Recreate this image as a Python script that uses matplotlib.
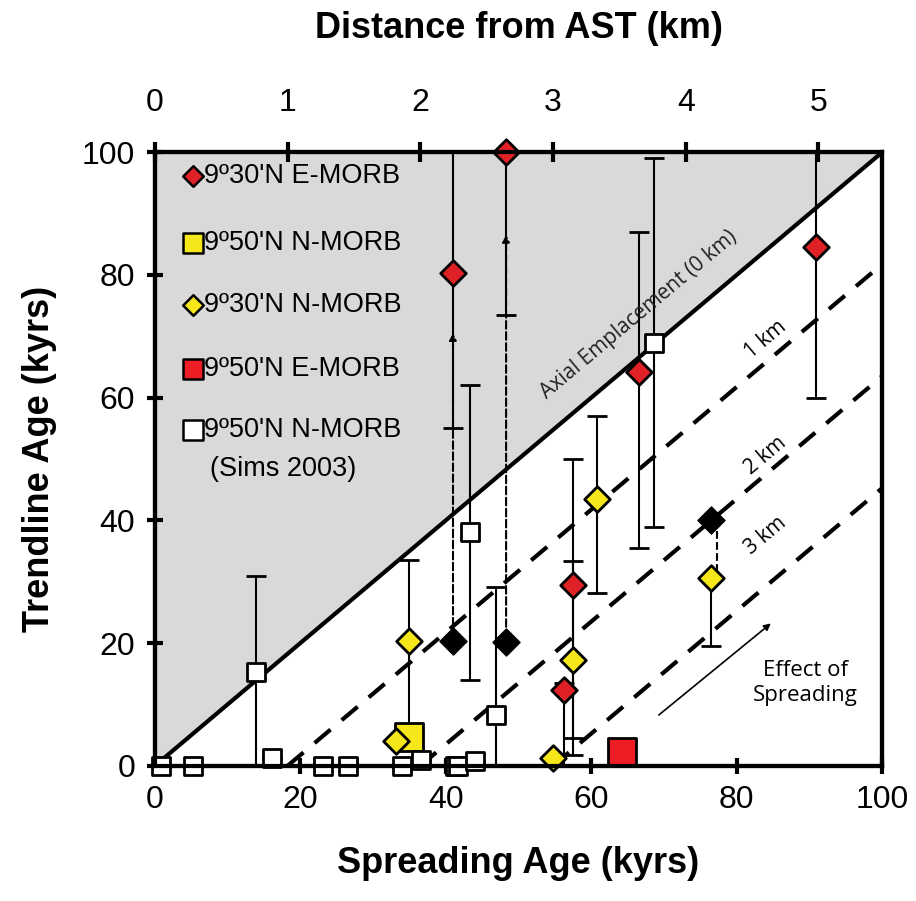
import matplotlib.pyplot as plt
import numpy as np

plt.rcParams['font.family'] = ['Liberation Sans', 'DejaVu Sans']

# 9º30'N E-MORB (red diamonds): x, y, lower, upper
red_d_x = [41.0, 48.3, 56.3, 57.5, 66.6, 90.9]
red_d_y = [80.3, 100.0, 12.3, 29.4, 64.2, 84.6]
red_d_lo = [55.0, 73.5, 0.0, 4.5, 35.5, 60.0]
red_d_hi = [100.0, 100.0, 13.5, 50.0, 87.0, 100.0]

# 9º30'N N-MORB (yellow diamonds)
yel_d_x = [33.1, 35.0, 54.7, 57.5, 60.8, 76.5]
yel_d_y = [4.0, 20.3, 1.2, 17.2, 43.5, 30.6]
yel_d_lo = [4.0, 5.0, 1.2, 1.8, 28.2, 19.5]
yel_d_hi = [4.0, 33.5, 1.2, 33.4, 57.0, 30.6]

# 9º50'N N-MORB (yellow square), 9º50'N E-MORB (red square)
yel_s_x, yel_s_y = [35.0], [4.7]
red_s_x, red_s_y = [64.2], [2.3]

# 9º50'N N-MORB (Sims 2003), white squares
wht_x = [0.8, 5.2, 13.9, 16.1, 23.1, 26.5, 34.0, 36.6, 41.3, 41.7, 43.3, 44.0, 46.9, 68.6]
wht_y = [0.0, 0.0, 15.3, 1.2, 0.0, 0.0, 0.0, 1.0, 0.0, 0.0, 38.1, 0.8, 8.3, 68.9]
wht_lo = [0.0, 0.0, 0.0, 1.2, 0.0, 0.0, 0.0, 1.0, 0.0, 0.0, 14.0, 0.8, 0.0, 39.0]
wht_hi = [0.0, 0.0, 31.0, 1.2, 0.0, 0.0, 0.0, 1.0, 0.0, 0.0, 62.0, 0.8, 29.2, 99.0]

# black diamonds (corrected ages) and arrow tips
blk_x = [41.0, 48.3, 76.5]
blk_y = [20.4, 20.2, 40.0]
arrow_top = [71.0, 87.0, 30.6]

km_ticks = [0, 1, 2, 3, 4, 5]
kyr_per_km = 18.25

fig = plt.figure(figsize=(9.16, 9.01), dpi=100)
ax = fig.add_axes([0.169, 0.150, 0.794, 0.681])
ax.set_xlim(0, 100)
ax.set_ylim(0, 100)

# shaded region above axial emplacement line
ax.fill_between([0, 100], [0, 100], [100, 100], color='#d9d9d9', zorder=0)
ax.plot([0, 100], [0, 100], color='black', lw=3, zorder=1)
for k in [1, 2, 3]:
    off = k * kyr_per_km
    ax.plot([off, 100], [0, 100 - off], color='black', lw=3, ls=(0, (5, 3.5)), zorder=1)

ax.text(66.5, 73.5, 'Axial Emplacement (0 km)', rotation=40, fontsize=15,
        family='Open Sans', ha='center', va='center', color='#222222')
ax.text(84, 69.5, '1 km', rotation=40, fontsize=15, family='Open Sans', ha='center', va='center')
ax.text(84, 50.5, '2 km', rotation=40, fontsize=15, family='Open Sans', ha='center', va='center')
ax.text(84, 37.5, '3 km', rotation=40, fontsize=15, family='Open Sans', ha='center', va='center')

ax.annotate('', xy=(85, 23.5), xytext=(69, 8),
            arrowprops=dict(arrowstyle='-|>', color='black', lw=1.2))
ax.text(89.5, 13.5, 'Effect of\nSpreading', fontsize=16, family='Open Sans',
        ha='center', va='center')

def ebars(x, y, lo, hi):
    y = np.array(y)
    yerr = [y - np.array(lo), np.array(hi) - y]
    ax.errorbar(x, y, yerr=yerr, fmt='none', ecolor='black', elinewidth=1.5,
                capsize=7, capthick=2, zorder=2)

ebars(red_d_x, red_d_y, red_d_lo, red_d_hi)
ebars(yel_d_x, yel_d_y, yel_d_lo, yel_d_hi)
ebars(wht_x, wht_y, wht_lo, wht_hi)

# dashed arrows from black diamonds
for x, y0, y1 in zip(blk_x, blk_y, arrow_top):
    if y1 > y0:
        ax.annotate('', xy=(x, y1), xytext=(x, y0 + 2),
                    arrowprops=dict(arrowstyle='-|>', ls='--', color='black', lw=1.5),
                    zorder=2)
    else:
        ax.plot([x + 0.8, x + 0.8], [y0, y1], ls='--', color='black', lw=1.5, zorder=2)

ax.scatter(wht_x, wht_y, marker='s', s=170, c='white', edgecolors='black', lw=2, zorder=4, clip_on=False)
ax.scatter(blk_x, blk_y, marker='D', s=190, c='black', edgecolors='black', lw=1, zorder=4)
ax.scatter(yel_s_x, yel_s_y, marker='s', s=420, c='#f5e71a', edgecolors='black', lw=2, zorder=3, clip_on=False)
ax.scatter(red_s_x, red_s_y, marker='s', s=420, c='#ee1c24', edgecolors='black', lw=2, zorder=4, clip_on=False)
ax.scatter(yel_d_x, yel_d_y, marker='D', s=170, c='#f5e71a', edgecolors='black', lw=2, zorder=5, clip_on=False)
ax.scatter(red_d_x, red_d_y, marker='D', s=170, c='#df2127', edgecolors='black', lw=2, zorder=5, clip_on=False)

# legend drawn by hand
leg_marker = ['D', 's', 'D', 's', 's']
leg_color = ['#df2127', '#f5e71a', '#f5e71a', '#ee1c24', 'white']
leg_label = ["9º30'N E-MORB", "9º50'N N-MORB", "9º30'N N-MORB", "9º50'N E-MORB", "9º50'N N-MORB"]
leg_y = [96.1, 85.2, 75.1, 64.7, 54.7]
for m, c, lab, yy in zip(leg_marker, leg_color, leg_label, leg_y):
    ax.scatter([5.2], [yy], marker=m, s=110 if m == 'D' else 200, c=c,
               edgecolors='black', lw=1.8, zorder=6)
    ax.text(6.8, yy, lab, fontsize=19.5, ha='left', va='center', zorder=6)
ax.text(7.6, 48.3, '(Sims 2003)', fontsize=19.5, ha='left', va='center', zorder=6)

for sp in ax.spines.values():
    sp.set_linewidth(3)
ax.set_xticks([0, 20, 40, 60, 80, 100])
ax.set_yticks([0, 20, 40, 60, 80, 100])
ax.tick_params(axis='both', direction='inout', length=12, width=3, labelsize=23, pad=8)
ax.set_xlabel('Spreading Age (kyrs)', fontsize=26, fontweight='bold', labelpad=22)
ax.set_ylabel('Trendline Age (kyrs)', fontsize=26, fontweight='bold', labelpad=18)

top = ax.twiny()
top.set_xlim(0, 100)
top.set_xticks([k * kyr_per_km for k in km_ticks])
top.set_xticklabels([str(k) for k in km_ticks])
top.tick_params(axis='x', direction='inout', length=14, width=3, labelsize=23, pad=18)
for sp in top.spines.values():
    sp.set_linewidth(3)
top.set_xlabel('Distance from AST (km)', fontsize=26, fontweight='bold', labelpad=36)

fig.savefig('out.png', dpi=100)
